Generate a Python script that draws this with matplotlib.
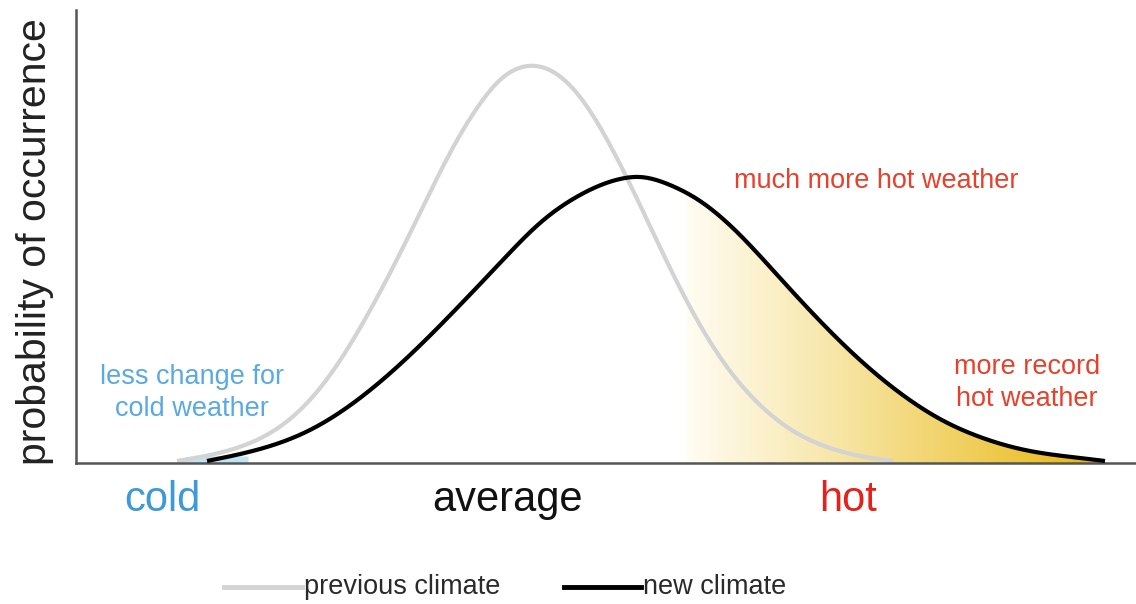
import numpy as np
import matplotlib
matplotlib.use('Agg')
import matplotlib.pyplot as plt
from matplotlib.colors import LinearSegmentedColormap
from matplotlib.lines import Line2D

# previous climate (grey) - x position, height above the axis
prev_x = [177, 210, 250, 290, 330, 360, 390, 420, 450, 475, 500, 528, 555, 580, 610, 640, 670, 700,
          730, 760, 790, 830, 860, 893]
prev_y = [2, 8, 20, 44, 88, 135, 190, 250, 310, 352, 383, 397, 390, 366, 318, 258, 195, 138,
          92, 58, 34, 15, 7, 2]

# new climate (black)
new_x = [207, 260, 310, 360, 410, 460, 500, 540, 580, 620, 640, 670, 700, 740, 780, 820, 860, 900,
         940, 980, 1030, 1080, 1105]
new_y = [2, 14, 33, 65, 108, 158, 200, 240, 268, 284, 286, 278, 262, 228, 185, 142, 103, 70,
         44, 26, 12, 5, 2]

hot_start = 687
cold_start = 155
cold_end = 248

plt.rcParams['font.family'] = ['Liberation Sans', 'DejaVu Sans']


def spline(x, y, n=800):
    # natural cubic spline through the read points
    x = np.asarray(x, float)
    y = np.asarray(y, float)
    k = len(x)
    h = np.diff(x)
    A = np.zeros((k, k))
    b = np.zeros(k)
    A[0, 0] = A[-1, -1] = 1
    for i in range(1, k - 1):
        A[i, i - 1] = h[i - 1]
        A[i, i] = 2 * (h[i - 1] + h[i])
        A[i, i + 1] = h[i]
        b[i] = 6 * ((y[i + 1] - y[i]) / h[i] - (y[i] - y[i - 1]) / h[i - 1])
    M = np.linalg.solve(A, b)
    xs = np.linspace(x[0], x[-1], n)
    idx = np.clip(np.searchsorted(x, xs) - 1, 0, k - 2)
    x0, x1 = x[idx], x[idx + 1]
    hh = x1 - x0
    a = (x1 - xs) / hh
    c = (xs - x0) / hh
    ys = (a * y[idx] + c * y[idx + 1]
          + ((a ** 3 - a) * M[idx] + (c ** 3 - c) * M[idx + 1]) * hh ** 2 / 6)
    return xs, np.clip(ys, 0, None)


fig = plt.figure(figsize=(11.36, 6.04), dpi=100)
ax = fig.add_axes([76 / 1136, 141 / 604, 1 - 76 / 1136, 453 / 604])

px_, py_ = spline(prev_x, prev_y)
nx_, ny_ = spline(new_x, new_y)

# cold tail fill
cx = np.linspace(cold_start, cold_end, 100)
top = np.maximum(np.interp(cx, px_, py_, left=0), np.interp(cx, nx_, ny_, left=0))
ax.fill_between(cx, 0, np.minimum(top, 7), color='#bfe4f2', lw=0, zorder=1)

# hot gradient fill under the new climate curve
m = nx_ >= hot_start
hx = np.concatenate([[hot_start], nx_[m]])
hy = np.concatenate([[np.interp(hot_start, nx_, ny_)], ny_[m]])
poly = ax.fill_between(hx, 0, hy, color='none', lw=0)
cmap = LinearSegmentedColormap.from_list('hot', ['#fffcf2', '#f8e8ad', '#f0d060', '#eab70a'])
grad = np.linspace(0, 1, 256).reshape(1, -1)
im = ax.imshow(grad, cmap=cmap, aspect='auto',
               extent=[hot_start, 1100, 0, 300], zorder=1)
im.set_clip_path(poly.get_paths()[0], transform=ax.transData)

ax.plot(px_, py_, color='#d3d3d3', lw=3, solid_capstyle='butt', zorder=2)
ax.plot(nx_, ny_, color='black', lw=3, solid_capstyle='butt', zorder=3)

ax.set_xlim(76, 1136)
ax.set_ylim(0, 453)

for side in ['top', 'right']:
    ax.spines[side].set_visible(False)
for side in ['left', 'bottom']:
    ax.spines[side].set_color('#555555')
    ax.spines[side].set_linewidth(1.8)
ax.set_xticks([])
ax.set_yticks([])

fig.text(35 / 1136, 1 - 242 / 604, 'probability of occurrence', rotation=90,
         ha='center', va='center', fontsize=29.5, color='#222222')

ax.text(162, -37, 'cold', ha='center', va='center', fontsize=30, color='#3d9ad8')
ax.text(507, -37, 'average', ha='center', va='center', fontsize=30, color='#111111')
ax.text(848, -37, 'hot', ha='center', va='center', fontsize=30, color='#e3221b')

ax.text(876, 282, 'much more hot weather', ha='center', va='center', fontsize=19.5, color='#e8402a')
ax.text(1027, 80, 'more record\nhot weather', ha='center', va='center', fontsize=19.5,
        color='#e8402a', linespacing=1.3)
ax.text(192, 70, 'less change for\ncold weather', ha='center', va='center', fontsize=19.5,
        color='#5aaae2', linespacing=1.3)

# legend drawn by hand: line then label right after it
ly = 1 - 587 / 604
fig.add_artist(Line2D([224 / 1136, 302 / 1136], [ly, ly], color='#d3d3d3', lw=3.5))
fig.text(304 / 1136, ly, 'previous climate', ha='left', va='center', fontsize=19.5, color='#2a2a2a')
fig.add_artist(Line2D([564 / 1136, 641 / 1136], [ly, ly], color='black', lw=3.5))
fig.text(643 / 1136, ly, 'new climate', ha='left', va='center', fontsize=19.5, color='#2a2a2a')

fig.savefig('out.png', dpi=100)
